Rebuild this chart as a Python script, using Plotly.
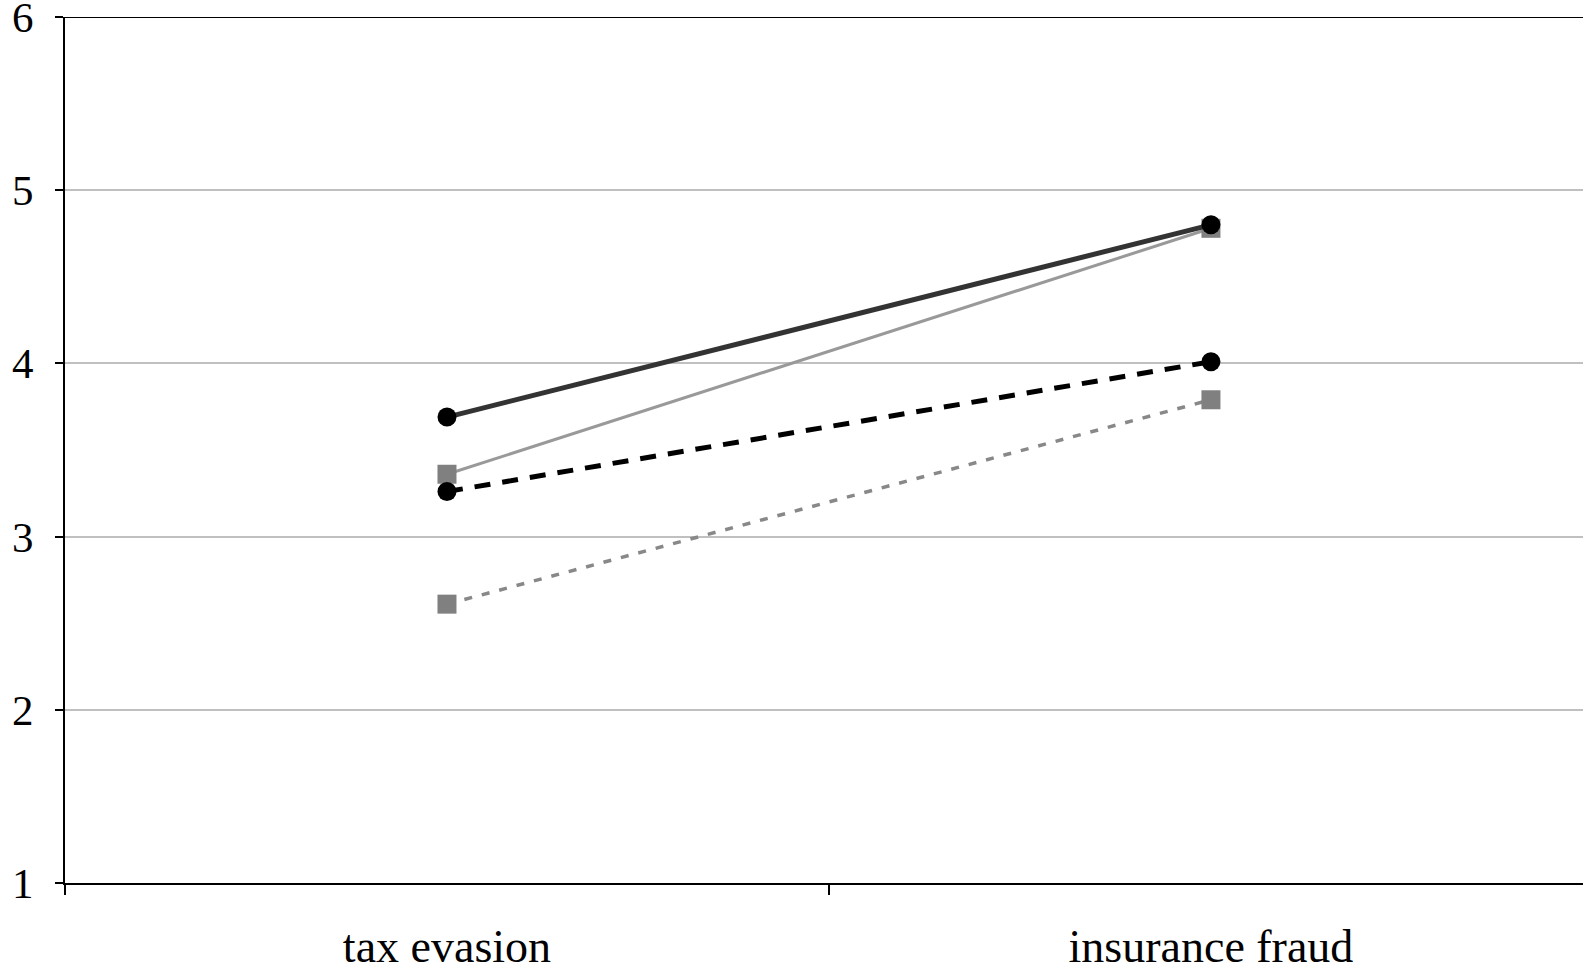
import plotly.graph_objects as go

categories = ["tax evasion", "insurance fraud"]
series_a = [3.69, 4.80]   # dark solid, circles
series_b = [3.36, 4.78]   # grey solid, squares
series_c = [3.26, 4.01]   # black dashed, circles
series_d = [2.61, 3.79]   # grey dotted, squares
y_ticks = [1, 2, 3, 4, 5, 6]

fig = go.Figure()
fig.add_trace(go.Scatter(x=categories, y=series_b, mode="lines+markers",
                         line=dict(color="#999999", width=3),
                         marker=dict(symbol="square", size=19, color="#808080")))
fig.add_trace(go.Scatter(x=categories, y=series_d, mode="lines+markers",
                         line=dict(color="#888888", width=3.5, dash="8px,10px"),
                         marker=dict(symbol="square", size=19, color="#808080")))
fig.add_trace(go.Scatter(x=categories, y=series_c, mode="lines+markers",
                         line=dict(color="#000000", width=5, dash="16px,12px"),
                         marker=dict(symbol="circle", size=19, color="#000000")))
fig.add_trace(go.Scatter(x=categories, y=series_a, mode="lines+markers",
                         line=dict(color="#333333", width=5),
                         marker=dict(symbol="circle", size=19, color="#000000")))

fig.add_shape(type="line", xref="paper", yref="y", x0=0, x1=1, y0=6, y1=6,
              line=dict(color="black", width=2))

xfont = dict(family="Liberation Serif, Times New Roman, serif", size=46, color="black")
yfont = dict(family="Liberation Serif, Times New Roman, serif", size=43, color="black")
fig.update_layout(
    width=1583, height=971,
    margin=dict(l=65, r=0, t=17, b=88),
    paper_bgcolor="white", plot_bgcolor="white",
    showlegend=False,
    font=xfont,
    xaxis=dict(type="category", range=[-0.5, 1.487], tickson="boundaries",
               ticks="outside", ticklen=10, tickcolor="black", tickwidth=1.5,
               showline=True, linecolor="black", linewidth=2,
               showgrid=False, zeroline=False, ticklabelstandoff=22,
               automargin=False, ticklabeloverflow="allow", tickfont=xfont),
    yaxis=dict(range=[1, 6], tickvals=y_ticks, ticks="outside", ticklen=8,
               tickcolor="black", tickwidth=1.5,
               showline=True, linecolor="black", linewidth=2,
               showgrid=True, gridcolor="#c0c0c0", gridwidth=1.5,
               zeroline=False, ticklabelstandoff=13, automargin=False,
               ticklabeloverflow="allow", tickfont=yfont),
)

fig.write_html("out.html", config={"displayModeBar": False},
               post_script="document.body.style.margin='0';document.body.style.overflow='hidden';")
